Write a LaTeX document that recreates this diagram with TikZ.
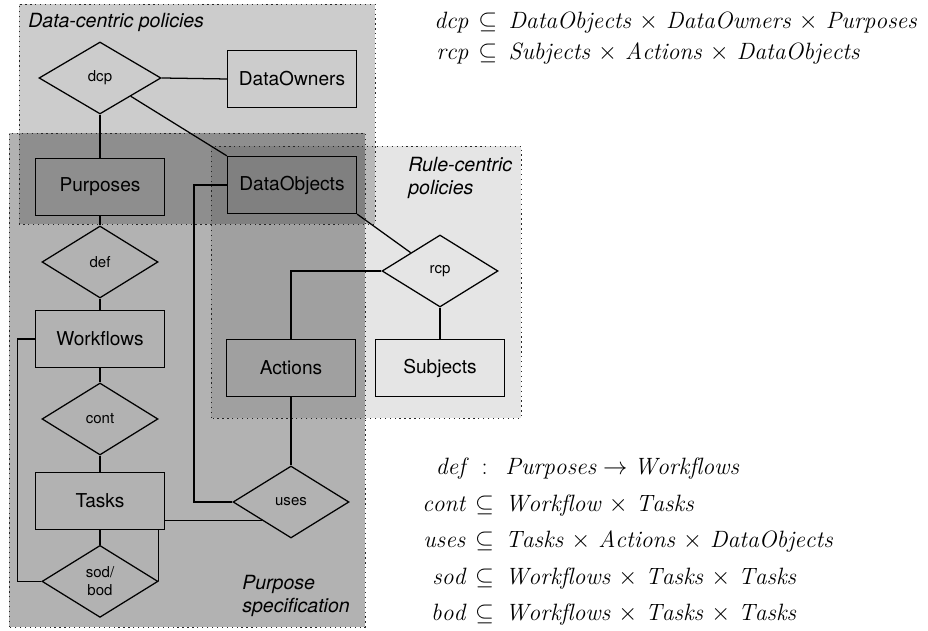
\documentclass[tikz,border=0pt]{standalone}
\usepackage{amsmath,amssymb}
\usepackage{fontspec}
\setsansfont{TeX Gyre Heros}
\usepackage{tikz}
\usetikzlibrary{shapes.geometric,calc}

\tikzset{
	entity/.style={draw,line width=0.9pt,minimum width=3.225cm,minimum height=1.425cm,inner sep=0pt,font=\sffamily\fontsize{13.6}{16}\selectfont},
	relation/.style={draw,diamond,line width=0.9pt,minimum width=2.9cm,minimum height=1.8cm,inner sep=0pt,align=center,font=\sffamily\fontsize{10.7}{12.8}\selectfont},
	link/.style={line width=0.9pt},
	region/.style={fill=black,fill opacity=#1},
	regionborder/.style={draw=black!85,line width=0.6pt,dash pattern=on 0.9pt off 2.6pt},
	regionlabel/.style={inner sep=0pt,align=left,font=\sffamily\itshape\fontsize{13.9}{16.2}\selectfont},
	defs/.style={anchor=west,inner sep=0pt,font=\fontsize{16.8}{19.7}\selectfont}
}

\begin{document}
\begin{tikzpicture}
		\useasboundingbox (0,0) rectangle (23.2,15.775);

		% Policy regions
		\fill[region=0.2] (0.475,10.175) rectangle (9.375,15.675);
		\fill[region=0.3] (0.225,0.1) rectangle (9.125,12.45);
		\fill[region=0.1] (5.275,5.325) rectangle (13.025,12.125);
		\draw[regionborder] (0.475,10.175) rectangle (9.375,15.675);
		\draw[regionborder] (0.225,0.1) rectangle (9.125,12.45);
		\draw[regionborder] (5.275,5.325) rectangle (13.025,12.125);
		\node[regionlabel,anchor=base west] (datalbl) at (0.7,15.08) {Data-centric policies};
		\node[regionlabel,anchor=north west] (rulelbl) at (10.2,11.85) {Rule-centric\\policies};
		\node[regionlabel,anchor=north west] (purplbl) at (6.05,1.4) {Purpose\\specification};

		% Entities
		\node[entity] (DataOwners) at (7.3,13.8) {DataOwners};
		\node[entity] (Purposes) at (2.5,11.1) {Purposes};
		\node[entity] (DataObjects) at (7.3,11.15) {DataObjects};
		\node[entity] (Workflows) at (2.5,7.3) {Workflows};
		\node[entity] (Actions) at (7.275,6.575) {Actions};
		\node[entity] (Subjects) at (11.0,6.575) {Subjects};
		\node[entity] (Tasks) at (2.5,3.25) {Tasks};

		% Relations
		\node[relation,minimum width=3.05cm] (dcp) at (2.5,13.825) {dcp};
		\node[relation] (def) at (2.5,9.225) {def};
		\node[relation] (rcp) at (11.0,9.0) {rcp};
		\node[relation] (cont) at (2.5,5.3) {cont};
		\node[relation] (uses) at (7.275,3.225) {uses};
		\node[relation] (sod) at (2.5,1.24) {sod/\\bod};

		% Connectors
		\draw[link] (dcp.east) -- (DataOwners.west);
		\draw[link] (dcp.south) -- (Purposes.north);
		\draw[link] (dcp.south east) -- (DataObjects.north west);
		\draw[link] (DataObjects.south east) -- (rcp.north west);
		\draw[link] (rcp.west) -| (Actions.north);
		\draw[link] (rcp.south) -- (Subjects.north);
		\draw[link] (Actions.south) -- (uses.north);
		\draw[link] (DataObjects.west) -- ($(DataObjects.west)+(-0.825,0)$) |- (uses.west);
		\draw[link] (uses.south west) -- (uses.south west -| Tasks.east);
		\draw[link] (Purposes.south) -- (def.north);
		\draw[link] (def.south) -- (Workflows.north);
		\draw[link] (Workflows.south) -- (cont.north);
		\draw[link] (cont.south) -- (Tasks.north);
		\draw[link] (Tasks.south) -- (sod.north);
		\draw[link] (sod.east) -- (sod.east |- Tasks.south);
		\draw[link] (Workflows.west) -- ($(Workflows.west)+(-0.425,0)$) |- (sod.west);

		% Definitions
		\node[defs] (dcpdefs) at (10.85,14.82) {$\medmuskip=6mu\begin{array}{@{}r@{\hspace{7pt}}c@{\hspace{8pt}}l@{}}
			\mathit{dcp} & \subseteq & \mathit{DataObjects} \times \mathit{DataOwners} \times \mathit{Purposes}\\[2.2pt]
			\mathit{rcp} & \subseteq & \mathit{Subjects} \times \mathit{Actions} \times \mathit{DataObjects}
		\end{array}$};
		\node[defs] (psdefs) at (10.55,2.22) {$\medmuskip=6mu\begin{array}{@{}r@{\hspace{7pt}}c@{\hspace{8pt}}l@{}}
			\mathit{def} & : & \mathit{Purposes} \rightarrow \mathit{Workflows}\\[6.2pt]
			\mathit{cont} & \subseteq & \mathit{Workflow} \times \mathit{Tasks}\\[6.2pt]
			\mathit{uses} & \subseteq & \mathit{Tasks} \times \mathit{Actions} \times \mathit{DataObjects}\\[6.2pt]
			\mathit{sod} & \subseteq & \mathit{Workflows} \times \mathit{Tasks} \times \mathit{Tasks}\\[6.2pt]
			\mathit{bod} & \subseteq & \mathit{Workflows} \times \mathit{Tasks} \times \mathit{Tasks}
		\end{array}$};
	\end{tikzpicture}
\end{document}
